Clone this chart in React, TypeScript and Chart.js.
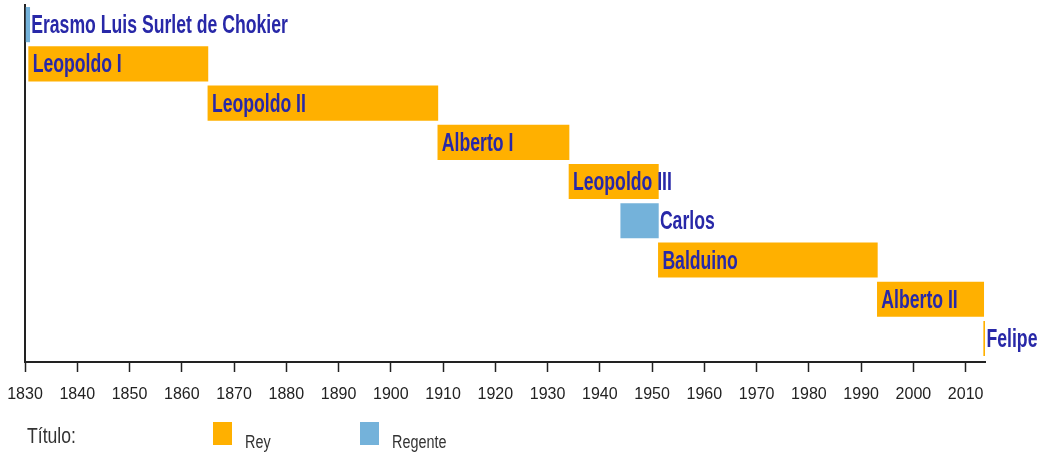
import React, { useEffect, useRef } from "react";
import { Chart, registerables } from "chart.js";

Chart.register(...registerables);

const reignNames = [
  "Erasmo Luis Surlet de Chokier",
  "Leopoldo I",
  "Leopoldo II",
  "Alberto I",
  "Leopoldo III",
  "Carlos",
  "Balduino",
  "Alberto II",
  "Felipe",
];
const reignStart = [1830.2, 1830.7, 1865.0, 1909.0, 1934.1, 1944.0, 1951.2, 1993.1, 2013.45];
const reignEnd = [1830.9, 1865.0, 1909.0, 1934.1, 1951.2, 1951.2, 1993.1, 2013.45, 2013.7];
const reignTitle = ["Regente", "Rey", "Rey", "Rey", "Rey", "Regente", "Rey", "Rey", "Rey"];
const titleKinds = ["Rey", "Regente"];
const titleColors = ["#FFB000", "#74B2DA"];
const legendCaption = "Título:";
const tickYears = [1830, 1840, 1850, 1860, 1870, 1880, 1890, 1900, 1910, 1920, 1930, 1940, 1950, 1960, 1970, 1980, 1990, 2000, 2010];
const yearMin = 1830;
const yearMax = 2013.7;

const LABEL_COLOR = "#2828a8";
const TEXT_COLOR = "#333333";

function hasFont(family: string): boolean {
  const c = document.createElement("canvas").getContext("2d");
  if (!c) return false;
  const sample = "Leopoldo abc 1830 Wy";
  c.font = "40px monospace";
  const a = c.measureText(sample).width;
  c.font = `40px "${family}", monospace`;
  const b = c.measureText(sample).width;
  return Math.abs(a - b) > 0.5;
}

function drawSqueezed(
  ctx: CanvasRenderingContext2D,
  text: string,
  x: number,
  y: number,
  font: string,
  sx: number,
  color: string
) {
  ctx.save();
  ctx.translate(x, y);
  ctx.scale(sx, 1);
  ctx.font = font;
  ctx.fillStyle = color;
  ctx.textAlign = "left";
  ctx.textBaseline = "alphabetic";
  ctx.fillText(text, 0, 0);
  ctx.restore();
}

export default function App() {
  const ref = useRef<HTMLCanvasElement>(null);

  useEffect(() => {
    const canvas = ref.current;
    if (!canvas) return;
    const narrow = hasFont("Liberation Sans Narrow");
    const tickFont = narrow
      ? { family: '"Liberation Sans Narrow"', size: 20 }
      : { family: '"Liberation Sans"', size: 16 };

    const barLabels = {
      id: "barLabels",
      afterDatasetsDraw(chart: any) {
        const ctx = chart.ctx as CanvasRenderingContext2D;
        const meta = chart.getDatasetMeta(0);
        meta.data.forEach((el: any, i: number) => {
          const p = el.getProps(["x", "base", "y"], true);
          const left = Math.min(p.x, p.base);
          const right = Math.max(p.x, p.base);
          const tx = right - left < 40 ? right + 1.5 : left + 4;
          drawSqueezed(ctx, reignNames[i], tx, p.y + 8.5, 'bold 25px "Liberation Sans"', 0.705, LABEL_COLOR);
        });
      },
    };

    const legendPlugin = {
      id: "titleLegend",
      afterDraw(chart: any) {
        const ctx = chart.ctx as CanvasRenderingContext2D;
        const left = chart.chartArea.left;
        drawSqueezed(ctx, legendCaption, left + 2, 443, '22px "Liberation Sans"', 0.8, TEXT_COLOR);
        titleKinds.forEach((k, i) => {
          const sx = 213 + i * 147;
          ctx.fillStyle = titleColors[i];
          ctx.fillRect(sx, 422, 19, 23);
          drawSqueezed(ctx, k, sx + 32, 448, '18px "Liberation Sans"', 0.8, TEXT_COLOR);
        });
      },
    };

    const chart = new Chart(canvas, {
      type: "bar",
      data: {
        datasets: [
          {
            data: reignNames.map((_, i) => ({ x: [reignStart[i], reignEnd[i]], y: i })) as any,
            backgroundColor: reignTitle.map((t) => titleColors[titleKinds.indexOf(t)]),
            borderWidth: 0,
            barThickness: 34.5,
            borderSkipped: false,
          },
        ],
      },
      options: {
        indexAxis: "y",
        responsive: false,
        animation: false,
        layout: { padding: { left: 25, right: 56, top: 5, bottom: 52 } },
        plugins: { legend: { display: false }, tooltip: { enabled: false } },
        scales: {
          x: {
            type: "linear",
            position: "bottom",
            min: yearMin,
            max: yearMax,
            offset: false,
            afterBuildTicks: (s: any) => {
              s.ticks = tickYears.map((v) => ({ value: v }));
            },
            afterFit: (s: any) => {
              s.height = 40;
              s.paddingLeft = 0;
              s.paddingRight = 0;
            },
            ticks: {
              font: tickFont,
              color: "#222222",
              padding: 13,
              maxRotation: 0,
              autoSkip: false,
              callback: (v: any) => String(v),
            },
            grid: {
              display: true,
              drawOnChartArea: false,
              drawTicks: true,
              tickLength: 10,
              tickColor: "#222222",
              tickWidth: 1.5,
              offset: false,
            },
            border: { display: true, color: "#222222", width: 2 },
          },
          y: {
            type: "linear",
            min: -0.5,
            max: 8.6,
            reverse: true,
            offset: false,
            ticks: { display: false },
            grid: { display: false, offset: false },
            border: { display: true, color: "#222222", width: 2 },
            afterFit: (s: any) => {
              s.width = 0;
            },
          },
        },
      } as any,
      plugins: [barLabels, legendPlugin],
    });
    return () => chart.destroy();
  }, []);

  return (
    <canvas
      ref={ref}
      width={1041}
      height={454}
      style={{ position: "absolute", left: 0, top: 0, display: "block" }}
    />
  );
}
